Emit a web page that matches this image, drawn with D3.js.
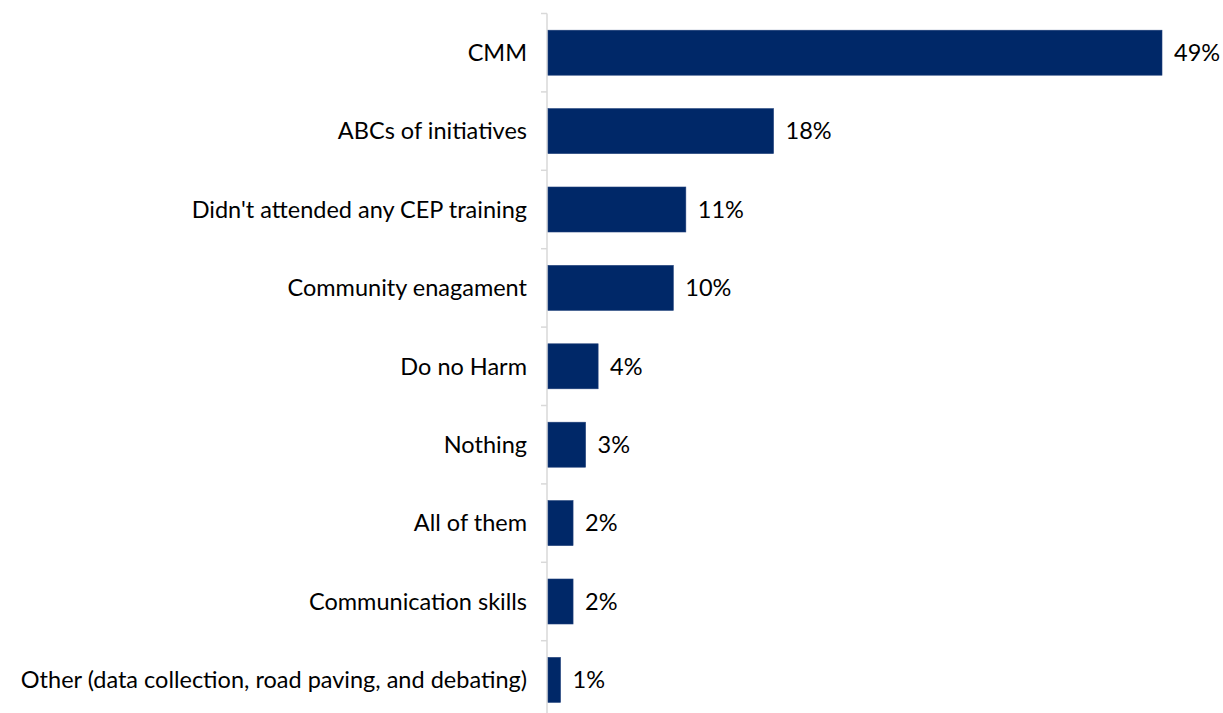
<!DOCTYPE html>
<html>
<head>
<meta charset="utf-8">
<script src="https://cdn.jsdelivr.net/npm/d3@7"></script>
<style>
  html, body { margin: 0; padding: 0; background: #fff; }
  svg text { font-family: "Lato", "Open Sans", sans-serif; fill: #000; }
</style>
</head>
<body>
<svg id="chart" width="1223" height="713"></svg>
<script>
// Training topics and share of respondents (%)
const categories = [
  "CMM",
  "ABCs of initiatives",
  "Didn't attended any CEP training",
  "Community enagament",
  "Do no Harm",
  "Nothing",
  "All of them",
  "Communication skills",
  "Other (data collection, road paving, and debating)"
];
const values = [49, 18, 11, 10, 4, 3, 2, 2, 1];
const valueLabels = values.map(v => v + "%");

const svg = d3.select("#chart");
const margin = { top: 13.5, left: 547 };
const rowStep = 78.4;
const barHeight = 45;
const height = 713 - margin.top;

const g = svg.append("g").attr("transform", `translate(${margin.left},${margin.top})`);

const x = d3.scaleLinear().domain([0, 49]).range([0, 614]);
// One row per category; the bar sits centred inside its row
const y = d3.scaleBand().domain(categories).range([0, categories.length * rowStep]).padding(0);
const barY = d => y(d) + (y.step() - barHeight) / 2;

// Category axis: grey line with ticks at row boundaries
const axisColor = "#d9d9d9";
g.append("line")
  .attr("x1", 0).attr("x2", 0)
  .attr("y1", 0).attr("y2", height)
  .attr("stroke", axisColor).attr("stroke-width", 1.5);

g.selectAll(".tick-mark")
  .data(categories)
  .join("line")
  .attr("class", "tick-mark")
  .attr("x1", -6).attr("x2", 0)
  .attr("y1", d => y(d)).attr("y2", d => y(d))
  .attr("stroke", axisColor).attr("stroke-width", 1.5);

// Category labels
g.selectAll(".cat-label")
  .data(categories)
  .join("text")
  .attr("class", "cat-label")
  .attr("x", -20)
  .attr("y", d => barY(d) + barHeight / 2)
  .attr("dy", "0.35em")
  .attr("text-anchor", "end")
  .style("font-size", "23.5px")
  .text(d => d);

// Bars
g.selectAll(".bar")
  .data(values)
  .join("rect")
  .attr("class", "bar")
  .attr("x", 1)
  .attr("y", (d, i) => barY(categories[i]))
  .attr("width", d => x(d))
  .attr("height", barHeight)
  .attr("fill", "#002868")
  .attr("stroke", "#1f3f7a")
  .attr("stroke-width", 0.6);

// Value labels
g.selectAll(".val-label")
  .data(values)
  .join("text")
  .attr("class", "val-label")
  .attr("x", d => x(d) + 13)
  .attr("y", (d, i) => barY(categories[i]) + barHeight / 2)
  .attr("dy", "0.35em")
  .style("font-size", "23.5px")
  .text((d, i) => valueLabels[i]);
</script>
</body>
</html>
